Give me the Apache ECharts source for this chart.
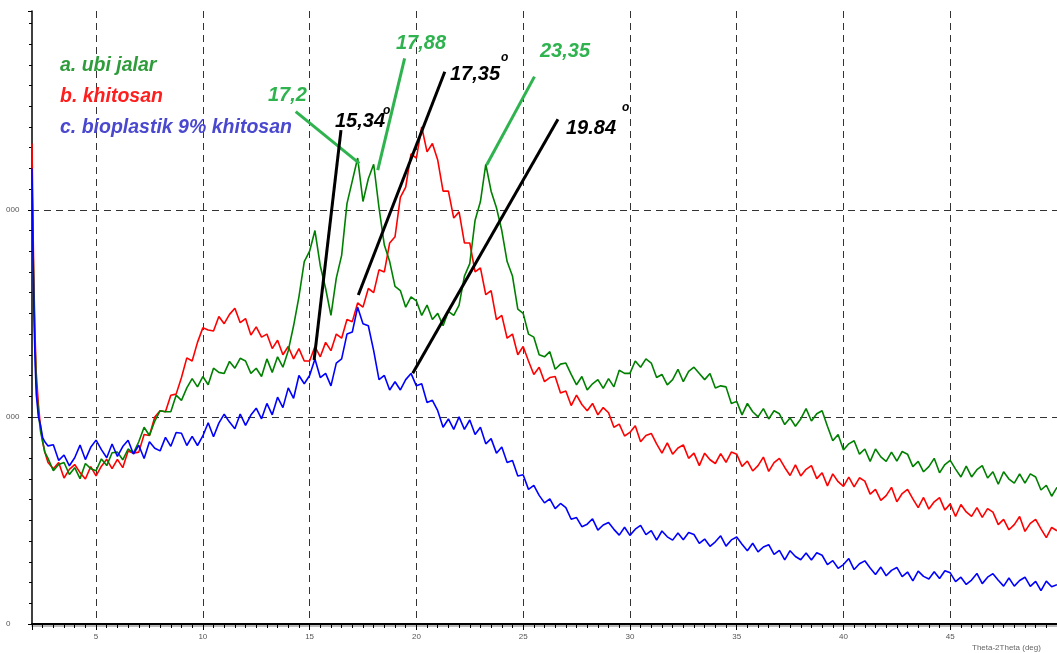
<!DOCTYPE html>
<html>
<head>
<meta charset="utf-8">
<script src="https://cdn.jsdelivr.net/npm/echarts@6.0.0/dist/echarts.min.js"></script>
<style>
  html, body { margin: 0; padding: 0; background: #fff; }
  #xrdChart { width: 1057px; height: 653px; }
</style>
</head>
<body>
<div id="xrdChart"></div>
<script>
// 2-theta angles (deg)
let angles = [
    2.0, 2.05, 2.1, 2.15, 2.2, 2.3, 2.4, 2.5, 2.6, 2.75,
    3, 3.25, 3.5, 3.75, 4, 4.25, 4.5, 4.75, 5, 5.25, 5.5, 5.75,
    6, 6.25, 6.5, 6.75, 7, 7.25, 7.5, 7.75, 8, 8.25, 8.5, 8.75,
    9, 9.25, 9.5, 9.75, 10, 10.25, 10.5, 10.75, 11, 11.25, 11.5, 11.75,
    12, 12.25, 12.5, 12.75, 13, 13.25, 13.5, 13.75, 14, 14.25, 14.5, 14.75,
    15, 15.25, 15.5, 15.75, 16, 16.25, 16.5, 16.75, 17, 17.25, 17.5, 17.75,
    18, 18.25, 18.5, 18.75, 19, 19.25, 19.5, 19.75, 20, 20.25, 20.5, 20.75,
    21, 21.25, 21.5, 21.75, 22, 22.25, 22.5, 22.75, 23, 23.25, 23.5, 23.75,
    24, 24.25, 24.5, 24.75, 25, 25.25, 25.5, 25.75, 26, 26.25, 26.5, 26.75,
    27, 27.25, 27.5, 27.75, 28, 28.25, 28.5, 28.75, 29, 29.25, 29.5, 29.75,
    30, 30.25, 30.5, 30.75, 31, 31.25, 31.5, 31.75, 32, 32.25, 32.5, 32.75,
    33, 33.25, 33.5, 33.75, 34, 34.25, 34.5, 34.75, 35, 35.25, 35.5, 35.75,
    36, 36.25, 36.5, 36.75, 37, 37.25, 37.5, 37.75, 38, 38.25, 38.5, 38.75,
    39, 39.25, 39.5, 39.75, 40, 40.25, 40.5, 40.75, 41, 41.25, 41.5, 41.75,
    42, 42.25, 42.5, 42.75, 43, 43.25, 43.5, 43.75, 44, 44.25, 44.5, 44.75,
    45, 45.25, 45.5, 45.75, 46, 46.25, 46.5, 46.75, 47, 47.25, 47.5, 47.75,
    48, 48.25, 48.5, 48.75, 49, 49.25, 49.5, 49.75, 50
]

// a. ubi jalar
let ubiJalar = [
    2130, 1810, 1530, 1320, 1160, 1020, 930, 880, 830, 800,
    740, 770, 780, 722, 755, 702, 775, 750, 740, 797, 765, 827,
    830, 793, 845, 825, 880, 950, 910, 980, 1030, 1025, 1025, 1105,
    1080, 1140, 1185, 1145, 1195, 1155, 1235, 1215, 1210, 1268, 1235, 1283,
    1270, 1210, 1235, 1195, 1280, 1215, 1290, 1240, 1320, 1440, 1580, 1750,
    1800, 1900, 1730, 1620, 1490, 1670, 1780, 2030, 2140, 2250, 2040, 2150,
    2220, 2010, 1830, 1750, 1630, 1610, 1530, 1580, 1560, 1490, 1540, 1470,
    1500, 1440, 1510, 1490, 1540, 1680, 1740, 1950, 2040, 2220, 2090, 2010,
    1900, 1750, 1680, 1520, 1500, 1400, 1385, 1300, 1290, 1315, 1230, 1255,
    1260, 1205, 1155, 1195, 1130, 1160, 1180, 1138, 1185, 1145, 1225, 1210,
    1210, 1270, 1240, 1280, 1260, 1190, 1205, 1155, 1180, 1230, 1170, 1220,
    1240, 1210, 1180, 1210, 1140, 1150, 1145, 1065, 1075, 1010, 1065, 1025,
    1000, 1040, 990, 1030, 1015, 963, 995, 955, 990, 1040, 980, 1015,
    1030, 955, 885, 915, 840, 870, 885, 820, 845, 785, 845, 807,
    785, 830, 787, 833, 820, 760, 785, 735, 760, 800, 730, 770,
    790, 748, 710, 762, 710, 745, 765, 705, 735, 675, 735, 700,
    680, 725, 680, 725, 710, 647, 670, 617, 660
]

// b. khitosan
let khitosan = [
    2320, 1900, 1590, 1370, 1210, 1060, 950, 880, 830, 780,
    750, 780, 705, 747, 770, 731, 700, 760, 715, 762, 795, 750,
    795, 755, 835, 825, 830, 915, 910, 1000, 1030, 1025, 1105, 1110,
    1190, 1285, 1270, 1360, 1430, 1420, 1415, 1485, 1450, 1495, 1525, 1455,
    1475, 1395, 1435, 1385, 1400, 1330, 1370, 1300, 1340, 1280, 1330, 1270,
    1270, 1340, 1290, 1360, 1320, 1400, 1380, 1470, 1460, 1550, 1530, 1620,
    1600, 1710, 1700, 1840, 1870, 2060, 2110, 2270, 2250, 2400, 2280, 2320,
    2240, 2090, 2090, 1960, 1990, 1840, 1840, 1700, 1720, 1590, 1610, 1470,
    1490, 1380, 1400, 1300, 1340, 1270, 1205, 1240, 1170, 1190, 1195, 1115,
    1125, 1055, 1105, 1060, 1030, 1065, 1010, 1045, 1020, 950, 965, 908,
    925, 957, 880, 910, 920, 870, 825, 875, 820, 850, 865, 800,
    825, 765, 825, 793, 775, 823, 781, 830, 820, 761, 787, 739,
    765, 806, 737, 779, 800, 756, 717, 768, 715, 747, 765, 702,
    730, 667, 725, 687, 665, 709, 662, 706, 690, 627, 650, 597,
    620, 660, 590, 630, 650, 604, 562, 611, 555, 590, 610, 550,
    580, 519, 577, 541, 520, 562, 515, 557, 540, 480, 505, 455,
    480, 519, 447, 486, 505, 459, 417, 466, 450
]

// c. bioplastik 9% khitosan
let bioplastik = [
    2200, 1760, 1450, 1250, 1110, 1000, 960, 900, 880, 860,
    866, 790, 816, 764, 803, 864, 794, 853, 888, 842, 803, 869,
    809, 857, 887, 821, 863, 799, 880, 849, 836, 901, 858, 925,
    921, 862, 906, 862, 908, 972, 904, 970, 1013, 975, 943, 1014,
    959, 1009, 1042, 991, 1065, 1010, 1095, 1045, 1140, 1090, 1200, 1160,
    1200, 1280, 1190, 1210, 1150, 1260, 1280, 1400, 1410, 1530, 1450, 1440,
    1320, 1180, 1200, 1130, 1170, 1130, 1180, 1210, 1150, 1160, 1070, 1080,
    1030, 950, 990, 940, 1000, 940, 985, 915, 950, 870, 895, 825,
    855, 780, 790, 715, 721, 650, 669, 621, 585, 604, 557, 582,
    562, 506, 514, 470, 482, 508, 453, 478, 490, 457, 429, 467,
    428, 458, 476, 432, 451, 405, 449, 421, 405, 439, 407, 442,
    432, 389, 410, 375, 397, 426, 376, 406, 420, 385, 354, 390,
    348, 372, 383, 336, 356, 310, 354, 326, 310, 343, 309, 344,
    332, 287, 306, 269, 287, 316, 263, 291, 305, 270, 239, 275,
    233, 259, 273, 229, 251, 208, 255, 230, 217, 252, 220, 257,
    247, 205, 226, 191, 212, 244, 195, 226, 243, 211, 183, 222,
    183, 210, 226, 182, 206, 161, 207, 180, 190
]

let seriesNames = ['a. ubi jalar', 'b. khitosan', 'c. bioplastik 9% khitosan']

// peak call-outs: [from, to] in (2theta, counts)
let greenPointers = [
    [[14.35, 2474], [17.33, 2224]],
    [[19.45, 2731], [18.19, 2192]],
    [[25.53, 2643], [23.29, 2216]]
]
let blackPointers = [
    [[16.47, 2385], [15.21, 1275]],
    [[21.33, 2667], [17.28, 1589]],
    [[26.63, 2437], [19.83, 1211]]
]

function toPairs(values) {
    return values.map(function(v, i) {
        return [angles[i], v]
    })
}

function pointerLines(list, color) {
    return list.map(function(p) {
        return [
            { coord: p[0], lineStyle: { color: color, width: 3, type: 'solid' } },
            { coord: p[1] }
        ]
    })
}

let chart = echarts.init(document.getElementById('xrdChart'), null, { renderer: 'canvas' })

let calloutFont = {
    fontSize: 20,
    fontWeight: 'bold',
    fontStyle: 'italic',
    fontFamily: 'Liberation Sans, Arial, sans-serif'
}

function callout(text, x, y, color, size) {
    return {
        type: 'text',
        left: x,
        top: y,
        z: 100,
        style: {
            text: text,
            fill: color,
            fontSize: size || calloutFont.fontSize,
            fontWeight: calloutFont.fontWeight,
            fontStyle: calloutFont.fontStyle,
            fontFamily: calloutFont.fontFamily
        }
    }
}

let option = {
    animation: false,
    backgroundColor: '#fff',
    grid: {
        left: 32,
        right: -11,
        top: 11,
        bottom: 29,
        containLabel: false
    },
    legend: {
        orient: 'vertical',
        left: 50,
        top: 51,
        icon: 'none',
        itemWidth: 0,
        itemGap: 11,
        selectedMode: false,
        textStyle: {
            fontSize: 19.5,
            fontWeight: 'bold',
            fontStyle: 'italic',
            fontFamily: 'Liberation Sans, Arial, sans-serif'
        },
        data: [
            { name: seriesNames[0], textStyle: { color: '#2f9c3c' } },
            { name: seriesNames[1], textStyle: { color: '#ff1e1e' } },
            { name: seriesNames[2], textStyle: { color: '#4a48cf' } }
        ]
    },
    xAxis: {
        type: 'value',
        min: 2,
        max: 50,
        splitNumber: 10,
        axisLine: {
            lineStyle: { color: '#000', width: 2, shadowColor: '#b8b8b8', shadowOffsetY: 2, shadowBlur: 0 }
        },
        axisTick: { show: true, length: 6, lineStyle: { color: '#000' } },
        minorTick: { show: true, splitNumber: 10, length: 4, lineStyle: { color: '#000' } },
        axisLabel: {
            showMinLabel: false,
            showMaxLabel: false,
            fontSize: 8,
            color: '#555',
            margin: 9,
            fontFamily: 'Liberation Sans, Arial, sans-serif'
        },
        splitLine: {
            show: true,
            showMinLine: false,
            showMaxLine: false,
            lineStyle: { color: '#333', width: 1, type: [7, 5] }
        }
    },
    yAxis: {
        type: 'value',
        min: 0,
        max: 2960,
        interval: 1000,
        axisLine: { show: true, lineStyle: { color: '#000', width: 1.5 } },
        axisTick: { show: true, length: 4, lineStyle: { color: '#000' } },
        minorTick: { show: true, splitNumber: 10, length: 3, lineStyle: { color: '#000' } },
        axisLabel: {
            showMaxLabel: false,
            fontSize: 8,
            color: '#555',
            align: 'left',
            margin: 26,
            fontFamily: 'Liberation Sans, Arial, sans-serif',
            formatter: function(v) {
                return String(v).slice(-3)
            }
        },
        splitLine: {
            show: true,
            showMaxLine: false,
            lineStyle: { color: '#333', width: 1, type: [7, 5] }
        }
    },
    series: [{
        name: seriesNames[1],
        type: 'line',
        data: toPairs(khitosan),
        showSymbol: false,
        lineStyle: { color: '#ff0000', width: 1.6 },
        itemStyle: { color: '#ff0000' }
    }, {
        name: seriesNames[0],
        type: 'line',
        data: toPairs(ubiJalar),
        showSymbol: false,
        lineStyle: { color: '#008000', width: 1.6 },
        itemStyle: { color: '#008000' }
    }, {
        name: seriesNames[2],
        type: 'line',
        data: toPairs(bioplastik),
        showSymbol: false,
        lineStyle: { color: '#0000ff', width: 1.6 },
        itemStyle: { color: '#0000ff' },
        markLine: {
            silent: true,
            symbol: 'none',
            label: { show: false },
            data: pointerLines(greenPointers, '#2fb34f').concat(pointerLines(blackPointers, '#000'))
        }
    }],
    graphic: [
        callout('17,2', 268, 85, '#2fb34f'),
        callout('17,88', 396, 33, '#2fb34f'),
        callout('23,35', 540, 41, '#2fb34f'),
        callout('15,34', 335, 111, '#000'),
        callout('o', 383, 105, '#000', 12),
        callout('17,35', 450, 64, '#000'),
        callout('o', 501, 52, '#000', 12),
        callout('19.84', 566, 118, '#000'),
        callout('o', 622, 102, '#000', 12),
        {
            type: 'text',
            left: 972,
            top: 644,
            style: {
                text: 'Theta-2Theta (deg)',
                fill: '#666',
                fontSize: 8,
                fontFamily: 'Liberation Sans, Arial, sans-serif'
            }
        }
    ]
}

chart.setOption(option)
</script>
</body>
</html>
